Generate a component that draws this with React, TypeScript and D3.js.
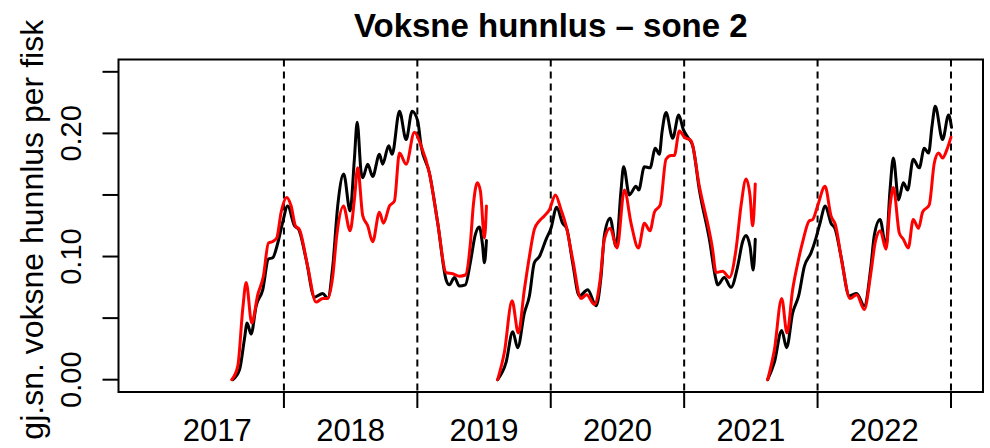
import React from "react";
import * as d3 from "d3";

type Pt = [number, number];

// x: decimal year, y: mean adult female lice per fish
const black1: Pt[] = [
  [2017.616, 0], [2017.667, 0.008], [2017.704, 0.033], [2017.724, 0.046], [2017.754, 0.037],
  [2017.792, 0.06], [2017.841, 0.073], [2017.884, 0.098], [2017.916, 0.099], [2017.954, 0.111],
  [2017.991, 0.128], [2018.028, 0.141], [2018.079, 0.125], [2018.111, 0.122], [2018.166, 0.098],
  [2018.229, 0.067], [2018.291, 0.07], [2018.328, 0.066], [2018.366, 0.092], [2018.403, 0.141],
  [2018.448, 0.167], [2018.496, 0.137], [2018.528, 0.179], [2018.549, 0.209], [2018.579, 0.168],
  [2018.591, 0.164], [2018.628, 0.175], [2018.665, 0.165], [2018.716, 0.183], [2018.74, 0.175],
  [2018.785, 0.19], [2018.811, 0.183], [2018.866, 0.218], [2018.916, 0.195], [2018.961, 0.218],
  [2019.003, 0.21], [2019.028, 0.19], [2019.09, 0.168], [2019.153, 0.127], [2019.216, 0.081],
  [2019.24, 0.077], [2019.278, 0.083], [2019.315, 0.076], [2019.36, 0.077], [2019.397, 0.095],
  [2019.435, 0.118], [2019.465, 0.124], [2019.488, 0.11], [2019.503, 0.095], [2019.518, 0.113],
];
const red1: Pt[] = [
  [2017.609, 0], [2017.654, 0.011], [2017.691, 0.057], [2017.717, 0.079], [2017.759, 0.046],
  [2017.804, 0.069], [2017.846, 0.084], [2017.884, 0.111], [2017.912, 0.112], [2017.946, 0.115],
  [2017.979, 0.136], [2018.021, 0.148], [2018.054, 0.141], [2018.086, 0.125], [2018.116, 0.122],
  [2018.178, 0.092], [2018.241, 0.063], [2018.291, 0.066], [2018.328, 0.066], [2018.366, 0.084],
  [2018.396, 0.117], [2018.446, 0.141], [2018.496, 0.121], [2018.528, 0.146], [2018.553, 0.172],
  [2018.591, 0.133], [2018.628, 0.125], [2018.665, 0.112], [2018.716, 0.136], [2018.746, 0.127],
  [2018.791, 0.141], [2018.828, 0.145], [2018.866, 0.184], [2018.916, 0.175], [2018.978, 0.201],
  [2019.028, 0.19], [2019.09, 0.168], [2019.153, 0.127], [2019.216, 0.087], [2019.265, 0.086],
  [2019.315, 0.084], [2019.36, 0.085], [2019.397, 0.11], [2019.42, 0.142], [2019.45, 0.16],
  [2019.473, 0.153], [2019.503, 0.115], [2019.518, 0.141],
];
const black2: Pt[] = [
  [2019.602, 0], [2019.665, 0.014], [2019.715, 0.039], [2019.752, 0.026], [2019.802, 0.054],
  [2019.84, 0.068], [2019.877, 0.095], [2019.915, 0.1], [2019.965, 0.114], [2020.002, 0.123],
  [2020.044, 0.14], [2020.089, 0.127], [2020.119, 0.123], [2020.164, 0.095], [2020.214, 0.068],
  [2020.277, 0.073], [2020.34, 0.06], [2020.377, 0.084], [2020.402, 0.117], [2020.445, 0.131],
  [2020.49, 0.108], [2020.527, 0.154], [2020.546, 0.173], [2020.589, 0.15], [2020.639, 0.157],
  [2020.659, 0.154], [2020.702, 0.173], [2020.744, 0.172], [2020.784, 0.188], [2020.814, 0.183],
  [2020.834, 0.201], [2020.864, 0.217], [2020.914, 0.196], [2020.959, 0.215], [2020.994, 0.203],
  [2021.026, 0.197], [2021.064, 0.19], [2021.114, 0.154], [2021.189, 0.114], [2021.239, 0.081],
  [2021.251, 0.077], [2021.301, 0.083], [2021.351, 0.075], [2021.401, 0.092], [2021.438, 0.112],
  [2021.464, 0.117], [2021.494, 0.108], [2021.518, 0.089], [2021.533, 0.114],
];
const red2: Pt[] = [
  [2019.602, 0], [2019.652, 0.022], [2019.71, 0.064], [2019.757, 0.038], [2019.802, 0.073],
  [2019.84, 0.1], [2019.877, 0.122], [2019.915, 0.129], [2019.952, 0.133], [2019.99, 0.138],
  [2020.035, 0.15], [2020.077, 0.138], [2020.115, 0.125], [2020.164, 0.098], [2020.227, 0.066],
  [2020.269, 0.069], [2020.327, 0.061], [2020.37, 0.081], [2020.402, 0.114], [2020.445, 0.123],
  [2020.497, 0.107], [2020.552, 0.154], [2020.602, 0.127], [2020.657, 0.107], [2020.702, 0.127],
  [2020.744, 0.121], [2020.777, 0.136], [2020.821, 0.142], [2020.864, 0.179], [2020.902, 0.182],
  [2020.926, 0.182], [2020.964, 0.202], [2021.001, 0.197], [2021.052, 0.194], [2021.114, 0.157],
  [2021.213, 0.106], [2021.239, 0.087], [2021.288, 0.088], [2021.339, 0.083], [2021.389, 0.106],
  [2021.426, 0.141], [2021.464, 0.163], [2021.494, 0.149], [2021.513, 0.125], [2021.533, 0.159],
];
const black3: Pt[] = [
  [2021.626, 0], [2021.676, 0.014], [2021.731, 0.04], [2021.768, 0.026], [2021.813, 0.054],
  [2021.858, 0.068], [2021.901, 0.092], [2021.951, 0.103], [2021.988, 0.115], [2022.018, 0.127],
  [2022.058, 0.141], [2022.101, 0.127], [2022.133, 0.122], [2022.176, 0.1], [2022.238, 0.068],
  [2022.293, 0.07], [2022.35, 0.06], [2022.4, 0.092], [2022.425, 0.117], [2022.468, 0.13],
  [2022.513, 0.108], [2022.543, 0.154], [2022.568, 0.18], [2022.607, 0.146], [2022.643, 0.16],
  [2022.675, 0.154], [2022.717, 0.179], [2022.762, 0.172], [2022.8, 0.188], [2022.832, 0.184],
  [2022.858, 0.206], [2022.882, 0.222], [2022.937, 0.195], [2022.982, 0.215], [2023.004, 0.205],
];
const red3: Pt[] = [
  [2021.626, 0], [2021.676, 0.024], [2021.731, 0.066], [2021.771, 0.038], [2021.813, 0.073],
  [2021.858, 0.098], [2021.893, 0.114], [2021.938, 0.129], [2021.963, 0.13], [2022.0, 0.141],
  [2022.056, 0.157], [2022.101, 0.133], [2022.133, 0.126], [2022.188, 0.092], [2022.243, 0.066],
  [2022.293, 0.069], [2022.35, 0.057], [2022.4, 0.087], [2022.433, 0.112], [2022.47, 0.121],
  [2022.513, 0.106], [2022.543, 0.141], [2022.568, 0.156], [2022.613, 0.119], [2022.643, 0.114],
  [2022.68, 0.107], [2022.717, 0.13], [2022.757, 0.123], [2022.787, 0.136], [2022.837, 0.142],
  [2022.875, 0.176], [2022.907, 0.184], [2022.937, 0.18], [2022.97, 0.187], [2023.0, 0.197],
];

const blackSeries = [black1, black2, black3];
const redSeries = [red1, red2, red3];

const yearLabels = [2017, 2018, 2019, 2020, 2021, 2022];
const yearBreaks = [2018, 2019, 2020, 2021, 2022, 2023];
const yTicks = [0, 0.05, 0.1, 0.15, 0.2, 0.25];
const yTickLabels = [0, 0.1, 0.2];

const title = "Voksne hunnlus \u2013 sone 2";
const yTitle = "gj.sn. voksne hunnlus per fisk";

export default function App() {
  const W = 990, H = 448;
  const left = 118.5, right = 983, top = 59.5, bottom = 392;
  const x = d3.scaleLinear().domain([2016.76, 2023.24]).range([left, right]);
  const y = d3.scaleLinear().domain([-0.01, 0.26]).range([bottom, top]);
  const line = d3
    .line<Pt>()
    .x((d) => x(d[0]))
    .y((d) => y(d[1]))
    .curve(d3.curveMonotoneX);
  const font = "'Liberation Sans', Arial, Helvetica, sans-serif";
  return (
    <svg
      width={W}
      height={H}
      style={{ position: "absolute", left: 0, top: 0, background: "#fff" }}
      fontFamily={font}
    >
      <rect x={0} y={0} width={W} height={H} fill="#fff" />
      {yearBreaks.map((b) => (
        <line
          key={"v" + b}
          x1={x(b)}
          x2={x(b)}
          y1={top}
          y2={bottom}
          stroke="#000"
          strokeWidth={2}
          strokeDasharray="7 5"
        />
      ))}
      {blackSeries.map((s, i) => (
        <path key={"b" + i} d={line(s) || ""} fill="none" stroke="#000" strokeWidth={3} strokeLinejoin="round" strokeLinecap="round" />
      ))}
      {redSeries.map((s, i) => (
        <path key={"r" + i} d={line(s) || ""} fill="none" stroke="#ff0000" strokeWidth={3} strokeLinejoin="round" strokeLinecap="round" />
      ))}
      <rect x={left} y={top} width={right - left} height={bottom - top} fill="none" stroke="#000" strokeWidth={2} />
      <line x1={x(yearBreaks[0])} x2={x(yearBreaks[yearBreaks.length - 1])} y1={bottom} y2={bottom} stroke="#000" strokeWidth={2} />
      {yearBreaks.map((b) => (
        <line key={"xt" + b} x1={x(b)} x2={x(b)} y1={bottom} y2={bottom + 16} stroke="#000" strokeWidth={2} />
      ))}
      {yearLabels.map((yr) => (
        <text key={"xl" + yr} x={x(yr + 0.5)} y={441} fontSize={31} textAnchor="middle" fill="#000">
          {yr}
        </text>
      ))}
      {yTicks.map((t) => (
        <line key={"yt" + t} x1={left - 16} x2={left} y1={y(t)} y2={y(t)} stroke="#000" strokeWidth={2} />
      ))}
      {yTickLabels.map((t) => (
        <text
          key={"yl" + t}
          transform={`translate(81,${y(t)}) rotate(-90)`}
          fontSize={29}
          textAnchor="middle"
          fill="#000"
        >
          {d3.format(".2f")(t)}
        </text>
      ))}
      <text transform={`translate(43,${(top + bottom) / 2 + 4}) rotate(-90)`} fontSize={32} textAnchor="middle" fill="#000">
        {yTitle}
      </text>
      <text x={(left + right) / 2} y={37} fontSize={33} fontWeight="bold" textAnchor="middle" fill="#000">
        {title}
      </text>
    </svg>
  );
}
